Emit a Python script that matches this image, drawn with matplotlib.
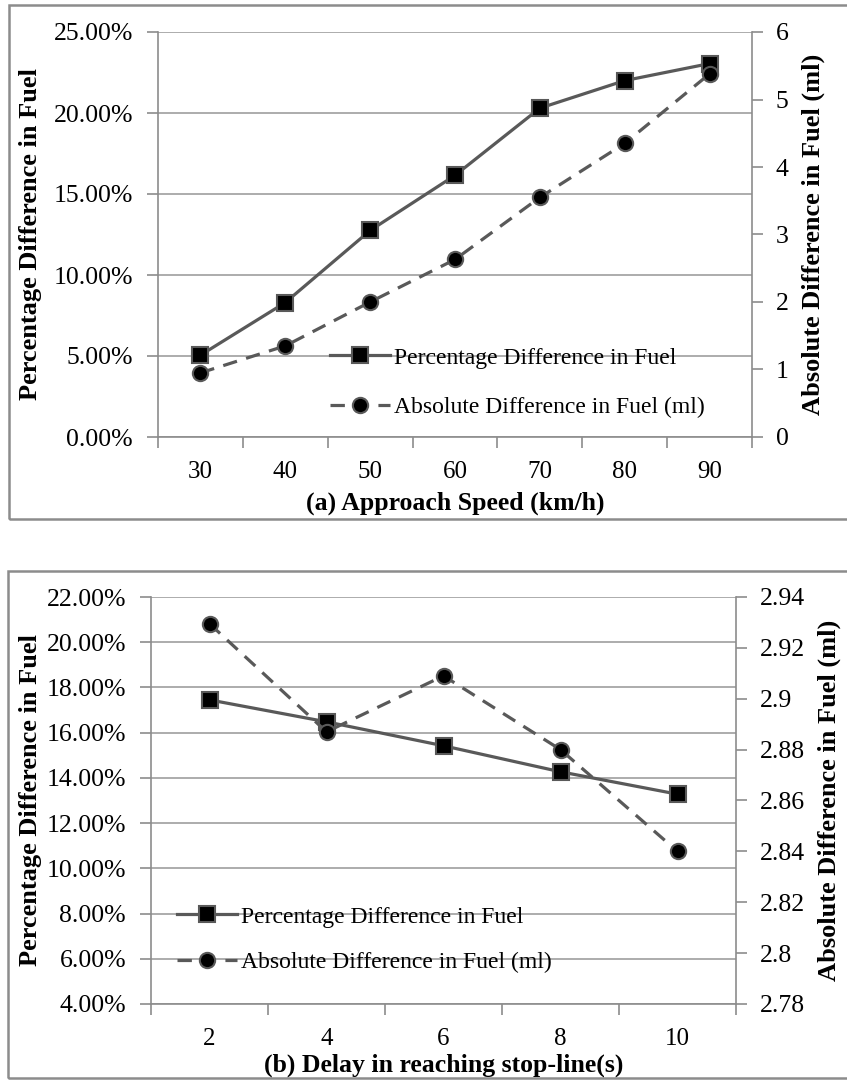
import matplotlib
matplotlib.use("Agg")
import matplotlib.pyplot as plt
import numpy as np
from matplotlib.ticker import FuncFormatter, MultipleLocator
from matplotlib.patches import Rectangle

plt.rcParams['font.family'] = ['Liberation Serif', 'DejaVu Serif']

# (a) approach speed
speed = [30, 40, 50, 60, 70, 80, 90]
pct_a = [5.05, 8.3, 12.75, 16.15, 20.3, 22.0, 23.05]   # %
abs_a = [0.95, 1.35, 2.0, 2.63, 3.55, 4.35, 5.38]      # ml

# (b) delay in reaching stop-line
delay = [2, 4, 6, 8, 10]
pct_b = [17.45, 16.48, 15.42, 14.27, 13.28]
abs_b = [2.9295, 2.887, 2.909, 2.880, 2.840]

lab_pct = "Percentage Difference in Fuel"
lab_abs = "Absolute Difference in Fuel (ml)"

W, H = 847, 1080
fig = plt.figure(figsize=(W / 100, H / 100), dpi=100)

LINE = "#595959"
GRID = "#a6a6a6"
SPINE = "#8c8c8c"


def px_rect(l, t, r, b):
    return [l / W, 1 - b / H, (r - l) / W, (b - t) / H]


def panel(rect, xs, pct, ab, ylim, ystep, y2lim, y2step, xlabel, leg_xy,
          leg_sp, ylab_x, xlab_y, frame):
    # grey frame round the whole chart
    l, t, r, b = frame
    fig.patches.append(Rectangle((l / W, 1 - b / H), (r - l) / W, (b - t) / H,
                                 transform=fig.transFigure, fill=False,
                                 edgecolor="#8c8c8c", lw=1.8))

    ax = fig.add_axes(px_rect(*rect))
    ax2 = ax.twinx()
    n = len(xs)
    pos = list(range(n))

    h1, = ax.plot(pos, pct, color=LINE, lw=2.3, marker="s", ms=12,
                  mfc="black", mec=LINE, mew=1.5, label=lab_pct)
    h2, = ax2.plot(pos, ab, color=LINE, lw=2.3, ls=(0, (4.5, 3)), marker="o",
                   ms=11, mfc="black", mec=LINE, mew=1.5, label=lab_abs)

    ax.set_xlim(-0.5, n - 0.5)
    ax.set_ylim(*ylim)
    ax.yaxis.set_major_locator(MultipleLocator(ystep))
    ax.yaxis.set_major_formatter(FuncFormatter(lambda v, p: "%.2f%%" % v))
    ax2.set_ylim(*y2lim)
    ax2.yaxis.set_major_locator(MultipleLocator(y2step))
    ax2.yaxis.set_major_formatter(FuncFormatter(lambda v, p: "%g" % round(v, 2)))

    ax.set_xticks(pos)
    ax.set_xticklabels([str(v) for v in xs])
    ax.set_xticks(np.arange(n + 1) - 0.5, minor=True)
    ax.tick_params(axis="x", which="major", length=0, pad=17, labelsize=18)
    ax.tick_params(axis="x", which="minor", length=8, width=1.2, color=SPINE,
                   direction="out")
    ax.tick_params(axis="y", length=8, width=1.2, color=SPINE, pad=10,
                   labelsize=18.5)
    ax2.tick_params(axis="y", length=8, width=1.2, color=SPINE, pad=9,
                    labelsize=18.5)

    ax.yaxis.grid(True, color=GRID, lw=1.3)
    ax.set_axisbelow(True)
    for a in (ax, ax2):
        a.spines["top"].set_visible(False)
        for s in a.spines.values():
            s.set_color(SPINE)
            s.set_linewidth(1.2)
    ax.spines["right"].set_visible(False)
    ax2.spines["left"].set_visible(False)
    ax2.spines["bottom"].set_visible(False)

    ax2.legend([h1, h2], [lab_pct, lab_abs], loc="upper left",
               bbox_to_anchor=(leg_xy[0] / W, 1 - leg_xy[1] / H),
               bbox_transform=fig.transFigure, frameon=False, fontsize=17,
               handlelength=2.55, handletextpad=0.15, labelspacing=leg_sp,
               borderpad=0, borderaxespad=0, numpoints=1)

    cy = (rect[1] + rect[3]) / 2
    fig.text(ylab_x[0] / W, 1 - cy / H, lab_pct, rotation=90, ha="center",
             va="center", fontsize=19, fontweight="bold")
    fig.text(ylab_x[1] / W, 1 - cy / H, lab_abs, rotation=90, ha="center",
             va="center", fontsize=19, fontweight="bold")
    fig.text((rect[0] + rect[2]) / 2 / W, 1 - xlab_y / H, xlabel, ha="center",
             va="center", fontsize=18.5, fontweight="bold")


panel((158, 32, 752, 437), speed, pct_a, abs_a, (0, 25), 5, (0, 6), 1,
      "(a) Approach Speed (km/h)", (330, 347), 1.2, (31, 813), 503,
      (8.7, 5.3, 860, 519))
panel((151, 597, 736, 1004), delay, pct_b, abs_b, (4, 22), 2, (2.78, 2.94), 0.02,
      "(b) Delay in reaching stop-line(s)", (177, 906), 1.02, (30, 829), 1065,
      (8, 570.7, 860, 1078))

fig.savefig("out.png", dpi=100)
